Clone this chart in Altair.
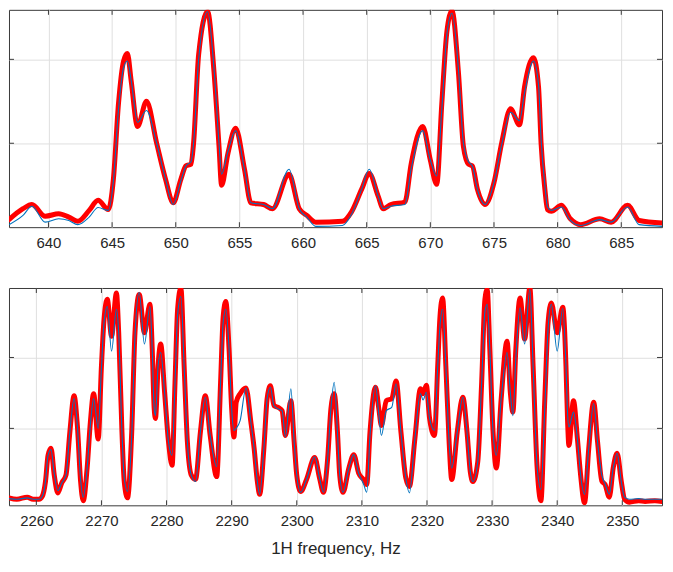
import altair as alt
import pandas as pd

# ---------------- top panel (Hz, fitted = red dots, measured = blue line) -------------
top_hz = [636.9, 638.0, 638.7, 639.75, 640.8, 641.6, 642.3, 643.2, 643.9, 644.7,
          645.1, 645.5, 645.9, 646.2, 646.5, 647.0, 647.7, 648.5, 649.2, 649.8,
          650.4, 650.8, 651.2, 651.4, 651.8, 652.5, 653.0, 653.4, 653.6, 654.1,
          654.7, 655.4, 655.9, 656.9, 657.6, 658.9, 659.7, 660.3, 661.0, 663.1,
          663.8, 664.6, 665.2, 665.9, 666.3, 666.9, 668.0, 668.5, 669.4, 670.0,
          670.5, 670.9, 671.3, 671.7, 672.2, 672.6, 673.0, 673.3, 673.7, 674.3,
          675.0, 675.6, 676.3, 677.0, 677.4, 678.1, 678.5, 678.7, 679.0, 679.2,
          679.5, 680.3, 681.0, 681.8, 683.3, 684.2, 685.5, 686.4, 688.2]
top_red = [0.09, 0.22, 0.27, 0.13, 0.16, 0.12, 0.07, 0.20, 0.32, 0.21,
           0.57, 1.47, 1.98, 2.07, 1.74, 1.20, 1.50, 1.00, 0.57, 0.29,
           0.57, 0.73, 0.75, 1.00, 2.06, 2.57, 1.86, 0.96, 0.50, 0.88,
           1.18, 0.69, 0.29, 0.27, 0.22, 0.63, 0.22, 0.14, 0.06, 0.07,
           0.18, 0.45, 0.64, 0.37, 0.22, 0.27, 0.30, 0.76, 1.20, 0.80,
           0.51, 1.47, 2.33, 2.58, 1.86, 0.96, 0.75, 0.73, 0.45, 0.27,
           0.53, 1.00, 1.41, 1.22, 1.67, 2.02, 1.67, 1.00, 0.45, 0.21,
           0.19, 0.26, 0.10, 0.03, 0.10, 0.06, 0.26, 0.08, 0.05]
top_blue = [0.03, 0.14, 0.25, 0.06, 0.10, 0.08, 0.03, 0.12, 0.235, 0.20,
            0.55, 1.40, 1.90, 1.98, 1.75, 1.25, 1.39, 1.00, 0.57, 0.27,
            0.55, 0.73, 0.78, 1.00, 2.00, 2.57, 1.90, 1.00, 0.63, 0.90,
            1.15, 0.69, 0.29, 0.27, 0.22, 0.69, 0.22, 0.12, 0.01, 0.02,
            0.15, 0.45, 0.69, 0.37, 0.22, 0.25, 0.27, 0.70, 1.15, 0.80,
            0.61, 1.40, 2.30, 2.55, 1.90, 1.00, 0.78, 0.73, 0.45, 0.27,
            0.53, 0.98, 1.37, 1.27, 1.60, 1.98, 1.70, 1.05, 0.50, 0.24,
            0.20, 0.24, 0.08, 0.02, 0.09, 0.06, 0.24, 0.03, 0.01]

# ---------------- bottom panel ----------------
bot_hz = [2255.8, 2257.0, 2258.6, 2259.5, 2260.4, 2260.9, 2261.4, 2261.8, 2262.25, 2262.75,
          2263.3, 2263.9, 2264.55, 2265.15, 2265.8, 2266.3, 2266.8, 2267.2, 2267.8, 2268.3,
          2268.8, 2269.5, 2270.0, 2270.4, 2270.9, 2271.55, 2272.3, 2272.65, 2273.15, 2273.5,
          2274.0, 2274.65, 2275.15, 2275.8, 2276.6, 2277.45, 2277.8, 2278.1, 2278.3, 2278.7,
          2279.1, 2279.7, 2280.3, 2280.85, 2281.3, 2281.7, 2282.2, 2282.7, 2283.2, 2283.8,
          2284.45, 2285.2, 2285.95, 2286.7, 2287.7, 2288.3, 2288.7, 2289.1, 2289.6, 2290.0,
          2290.35, 2290.7, 2291.3, 2292.2, 2292.95, 2293.45, 2293.95, 2294.3, 2294.95, 2295.45,
          2295.95, 2296.5, 2297.25, 2297.75, 2298.25, 2299.1, 2299.6, 2300.0, 2300.6, 2301.5,
          2302.75, 2303.5, 2304.1, 2304.75, 2305.25, 2305.75, 2306.25, 2306.6, 2307.1, 2308.0,
          2308.75, 2309.5, 2310.25, 2310.75, 2311.25, 2312.1, 2312.6, 2313.0, 2313.75, 2314.6,
          2315.25, 2316.0, 2316.75, 2317.3, 2318.15, 2319.0, 2319.4, 2319.9, 2320.4, 2321.15,
          2321.65, 2322.0, 2322.4, 2322.9, 2323.4, 2323.8, 2324.65, 2325.5, 2326.15, 2326.65,
          2327.05, 2327.8, 2328.4, 2328.9, 2329.25, 2329.65, 2330.15, 2330.65, 2331.4, 2332.3,
          2332.8, 2333.2, 2333.65, 2334.3, 2335.0, 2335.8, 2336.3, 2336.9, 2337.5, 2338.1,
          2338.6, 2339.1, 2340.0, 2340.85, 2341.35, 2341.6, 2341.8, 2342.5, 2343.1, 2343.6,
          2344.2, 2344.85, 2345.6, 2346.2, 2346.85, 2347.35, 2348.0, 2348.6, 2349.2, 2349.85,
          2350.35, 2351.1, 2352.5, 2353.5, 2355.0, 2356.1]
bot_red = [0.02, 0.00, 0.03, 0.00, 0.00, 0.04, 0.25, 0.62, 0.72, 0.34,
           0.09, 0.23, 0.34, 0.95, 1.46, 1.04, 0.25, -0.02, 0.44, 1.09,
           1.49, 0.85, 1.88, 2.54, 2.82, 2.30, 2.91, 2.35, 0.95, 0.25,
           0.02, 0.95, 2.35, 2.89, 2.35, 2.75, 2.12, 1.28, 1.14, 1.88,
           2.19, 1.51, 0.81, 0.48, 1.65, 2.68, 2.98, 1.88, 0.81, 0.34,
           0.28, 0.95, 1.46, 0.90, 0.32, 1.65, 2.58, 2.79, 2.12, 1.28,
           0.88, 1.37, 1.49, 1.57, 1.09, 0.72, 0.25, 0.07, 0.72, 1.42,
           1.60, 1.32, 1.29, 1.25, 0.90, 1.39, 0.81, 0.34, 0.11, 0.28,
           0.59, 0.30, 0.10, 0.58, 1.28, 1.49, 0.95, 0.34, 0.10, 0.44,
           0.63, 0.37, 0.28, 0.21, 0.95, 1.58, 1.28, 1.04, 1.39, 1.42,
           1.67, 0.95, 0.30, 0.18, 0.86, 1.56, 1.49, 1.61, 1.14, 0.90,
           1.88, 2.58, 2.84, 1.88, 0.81, 0.28, 0.95, 1.44, 0.95, 0.39,
           0.25, 0.53, 1.65, 2.82, 2.96, 2.12, 0.95, 0.44, 1.42, 2.23,
           1.51, 1.23, 2.12, 2.84, 2.26, 2.98, 1.88, 0.48, -0.02, 1.42,
           2.49, 2.77, 2.35, 2.71, 1.88, 1.09, 0.76, 1.39, 0.86, 0.34,
           -0.05, 0.72, 1.37, 0.81, 0.26, 0.21, 0.03, 0.44, 0.65, 0.25,
           0.00, -0.04, -0.02, -0.03, -0.02, -0.03]
bot_blue = [0.01, 0.00, 0.02, 0.00, 0.00, 0.04, 0.25, 0.62, 0.70, 0.36,
            0.12, 0.23, 0.34, 0.95, 1.42, 1.04, 0.28, 0.03, 0.44, 1.05,
            1.42, 1.00, 1.85, 2.50, 2.72, 2.09, 2.68, 2.35, 0.95, 0.30,
            0.11, 0.90, 2.30, 2.92, 2.19, 2.72, 2.12, 1.28, 1.18, 1.88,
            2.07, 1.51, 0.81, 0.62, 1.65, 2.60, 2.86, 1.88, 0.81, 0.34,
            0.25, 0.95, 1.44, 0.90, 0.46, 1.65, 2.50, 2.68, 2.12, 1.28,
            0.97, 1.00, 1.11, 1.57, 1.09, 0.72, 0.25, 0.07, 0.72, 1.42,
            1.58, 1.32, 1.27, 1.25, 0.88, 1.56, 0.81, 0.34, 0.10, 0.28,
            0.60, 0.30, 0.10, 0.58, 1.28, 1.65, 0.95, 0.34, 0.10, 0.44,
            0.63, 0.37, 0.22, 0.10, 0.90, 1.60, 1.20, 0.90, 1.25, 1.30,
            1.63, 0.95, 0.30, 0.09, 0.86, 1.49, 1.40, 1.51, 1.14, 0.97,
            1.88, 2.45, 2.68, 1.88, 0.81, 0.44, 0.95, 1.44, 0.95, 0.39,
            0.25, 0.53, 1.65, 2.65, 2.75, 2.12, 0.95, 0.62, 1.42, 2.07,
            1.51, 1.18, 2.00, 2.70, 2.19, 2.96, 1.88, 0.48, 0.14, 1.30,
            2.40, 2.75, 2.09, 2.69, 1.88, 1.20, 1.02, 1.23, 0.86, 0.34,
            0.07, 0.72, 1.35, 0.81, 0.34, 0.22, 0.07, 0.44, 0.65, 0.25,
            0.03, 0.00, 0.01, 0.00, 0.00, 0.00]

top_xticks = [640, 645, 650, 655, 660, 665, 670, 675, 680, 685]
bot_xticks = [2260, 2270, 2280, 2290, 2300, 2310, 2320, 2330, 2340, 2350]
top_xdomain = [636.9, 688.2]
bot_xdomain = [2255.8, 2356.1]
top_ydomain = [0.0, 2.59]
bot_ydomain = [-0.085, 2.98]
ygrid = [1, 2]

W = 655
H = 218
FRAME = "#3a3a3a"
TICK = 5


def panel(hz, red, blue, xdom, ydom, xticks, title):
    df = pd.DataFrame({"hz": hz, "fit": red, "meas": blue})
    xs = alt.Scale(domain=xdom, nice=False, zero=False)
    ys = alt.Scale(domain=ydom, nice=False, zero=False)
    xaxis = alt.Axis(values=xticks, grid=True, ticks=False, tickSize=0, domain=False,
                     labelPadding=8, format="d", title=title, titlePadding=12)
    yaxis = alt.Axis(values=ygrid, grid=True, ticks=False, labels=False, domain=False,
                     title=None)
    base = alt.Chart(df)
    red_l = base.mark_line(color="#ff0000", strokeWidth=5, interpolate="monotone",
                           clip=True, strokeJoin="round", strokeCap="round").encode(
        x=alt.X("hz:Q", scale=xs, axis=xaxis),
        y=alt.Y("fit:Q", scale=ys, axis=yaxis))
    blue_l = base.mark_line(color="#0072bd", strokeWidth=1.1, interpolate="monotone",
                            clip=True).encode(
        x=alt.X("hz:Q", scale=xs, axis=xaxis),
        y=alt.Y("meas:Q", scale=ys, axis=yaxis))
    xt = alt.Chart(pd.DataFrame({"t": xticks}))
    yt = alt.Chart(pd.DataFrame({"g": ygrid}))
    tx = alt.X("t:Q", scale=xs, axis=xaxis)
    ty = alt.Y("g:Q", scale=ys, axis=yaxis)
    t_top = xt.mark_rule(color=FRAME, strokeWidth=1).encode(x=tx, y=alt.value(0), y2=alt.value(TICK))
    t_bot = xt.mark_rule(color=FRAME, strokeWidth=1).encode(x=tx, y=alt.value(H), y2=alt.value(H - TICK))
    t_left = yt.mark_rule(color=FRAME, strokeWidth=1).encode(y=ty, x=alt.value(0), x2=alt.value(TICK))
    t_right = yt.mark_rule(color=FRAME, strokeWidth=1).encode(y=ty, x=alt.value(W), x2=alt.value(W - TICK))
    return alt.layer(red_l, blue_l, t_top, t_bot, t_left, t_right).properties(width=W, height=H)


top = panel(top_hz, top_red, top_blue, top_xdomain, top_ydomain, top_xticks, None)
bottom = panel(bot_hz, bot_red, bot_blue, bot_xdomain, bot_ydomain, bot_xticks, "1H frequency, Hz")

chart = alt.vconcat(top, bottom, spacing=36).properties(
    padding={"left": 0, "top": 0, "right": 2, "bottom": 2}
).configure_view(stroke=FRAME, strokeWidth=1).configure_axis(
    gridColor="#dfdfdf", gridWidth=1,
    labelFont="Liberation Sans", labelFontSize=15, labelColor="#262626",
    titleFont="Liberation Sans", titleFontSize=17, titleFontWeight="normal", titleColor="#262626"
)

chart.save("out.html", embed_options={"renderer": "svg", "actions": False})
